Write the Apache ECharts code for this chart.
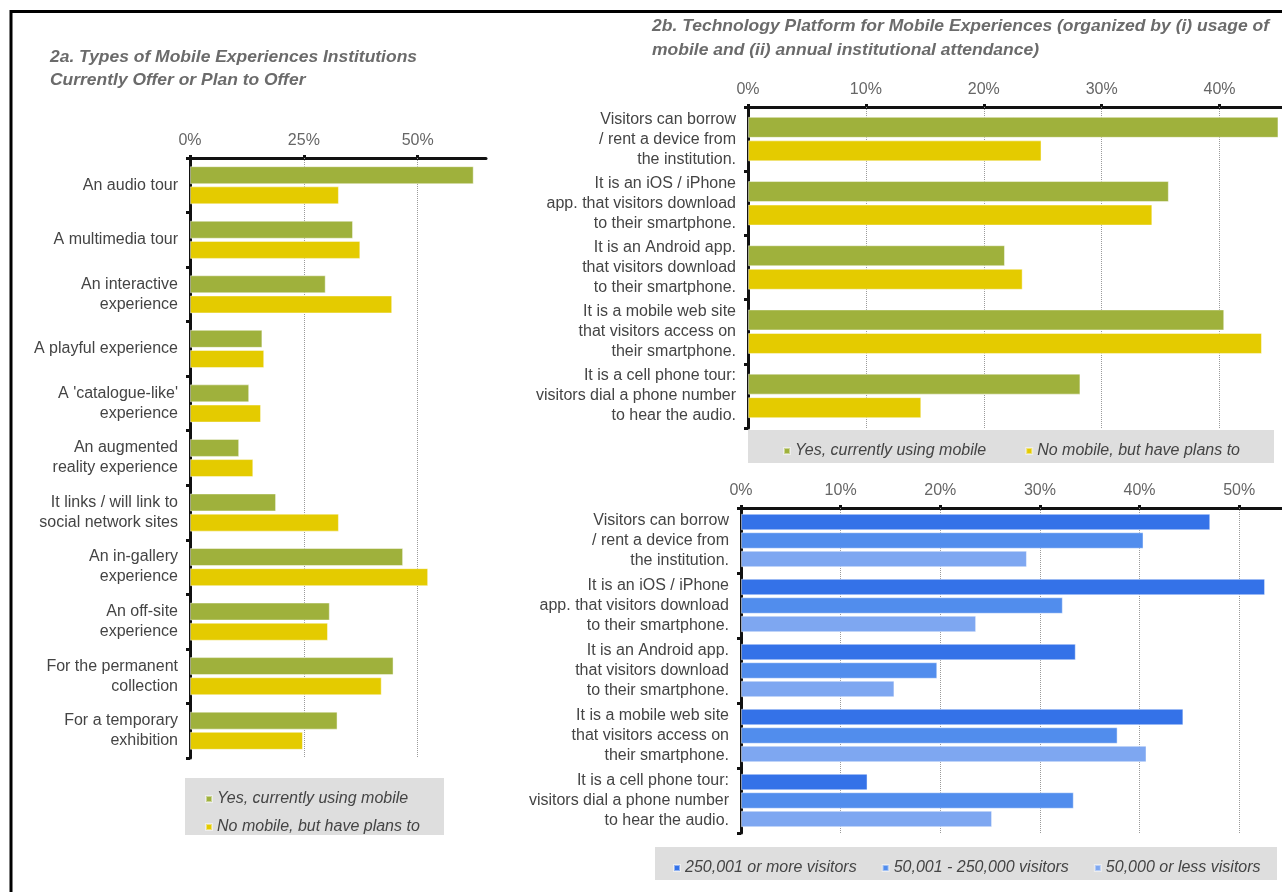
<!DOCTYPE html>
<html>
<head>
<meta charset="utf-8">
<style>
  html, body { margin: 0; padding: 0; background: #fff; }
  #chart { width: 1282px; height: 892px; }
</style>
<script src="https://cdn.jsdelivr.net/npm/echarts@6/dist/echarts.min.js"></script>
</head>
<body>
<div id="chart"></div>
<script>
// ---- 2a: types of mobile experiences ----
const typeCategories = [
  'An audio tour',
  'A multimedia tour',
  'An interactive\nexperience',
  'A playful experience',
  "A 'catalogue-like'\nexperience",
  'An augmented\nreality experience',
  'It links / will link to\nsocial network sites',
  'An in-gallery\nexperience',
  'An off-site\nexperience',
  'For the permanent\ncollection',
  'For a temporary\nexhibition'
];
const typeYes  = [62.3, 35.8, 29.8, 15.9, 13.0, 10.8, 18.9, 46.8, 30.7, 44.7, 32.4];
const typePlan = [32.7, 37.4, 44.4, 16.3, 15.6, 13.9, 32.7, 52.3, 30.3, 42.1, 24.8];
const typeTicks = [0, 25, 50];

// ---- 2b: technology platform ----
const platformCategories = [
  'Visitors can borrow\n/ rent a device from\nthe institution.',
  'It is an iOS / iPhone\napp. that visitors download\nto their smartphone.',
  'It is an Android app.\nthat visitors download\nto their smartphone.',
  'It is a mobile web site\nthat visitors access on\ntheir smartphone.',
  'It is a cell phone tour:\nvisitors dial a phone number\nto hear the audio.'
];
const platformYes  = [45.0, 35.7, 21.8, 40.4, 28.2];
const platformPlan = [24.9, 34.3, 23.3, 43.6, 14.7];
const platformTicks = [0, 10, 20, 30, 40];

const attendLarge  = [47.1, 52.6, 33.6, 44.4, 12.7];
const attendMedium = [40.4, 32.3, 19.7, 37.8, 33.4];
const attendSmall  = [28.7, 23.6, 15.4, 40.7, 25.2];
const attendTicks = [0, 10, 20, 30, 40, 50];

const titleA = ['2a. Types of Mobile Experiences Institutions', 'Currently Offer or Plan to Offer'];
const titleB = ['2b. Technology Platform for Mobile Experiences (organized by (i) usage of', 'mobile and (ii) annual institutional attendance)'];

const NAME_YES = 'Yes, currently using mobile';
const NAME_PLAN = 'No mobile, but have plans to';
const NAME_L = '250,001 or more visitors';
const NAME_M = '50,001 - 250,000 visitors';
const NAME_S = '50,000 or less visitors';

const GREEN = '#9fb13c';
const YELLOW = '#e4cb00';
const BLUE_D = '#3472e8';
const BLUE_M = '#518ded';
const BLUE_L = '#7ea7f1';

const FONT = '"Liberation Sans", Arial, Helvetica, sans-serif';
const TITLE_FONT = 'italic bold 17px "Liberation Sans", Arial, sans-serif';

// titles are set in a condensed face: squeeze the regular face horizontally to the column width
function condensed(text, width) {
  const ctx = document.createElement('canvas').getContext('2d');
  ctx.font = TITLE_FONT;
  return width / ctx.measureText(text).width;
}
function titleLines(lines, x, ys, width) {
  const sx = condensed(lines[0], width);
  return lines.map((t, i) => ({
    type: 'text', x, y: ys[i], scaleX: sx, silent: true,
    style: { text: t, font: TITLE_FONT, fill: '#6b6b6b', textAlign: 'left', textVerticalAlign: 'middle' }
  }));
}

function valueAxis(gridIndex, max, ticks) {
  return {
    type: 'value', gridIndex, position: 'top', min: 0, max,
    axisLine: { show: true, lineStyle: { color: '#111', width: 3 } },
    axisTick: { show: true, customValues: ticks, length: 3, lineStyle: { color: '#111', width: 3 } },
    axisLabel: { customValues: ticks, formatter: '{value}%', color: '#666', fontSize: 16, fontFamily: FONT, margin: 9 },
    splitLine: { show: false }
  };
}
function categoryAxis(gridIndex, data, lineHeight) {
  return {
    type: 'category', gridIndex, data, inverse: true,
    axisLine: { show: true, lineStyle: { color: '#111', width: 3 } },
    axisTick: { show: true, length: 4, lineStyle: { color: '#111', width: 3 } },
    axisLabel: { color: '#444', fontSize: 16, fontFamily: FONT, lineHeight, margin: 12, align: 'right' }
  };
}
function gridLines(ticks) {
  return {
    silent: true, symbol: 'none', z: 1,
    label: { show: false },
    emphasis: { disabled: true },
    lineStyle: { type: 'dotted', color: '#9a9a9a', width: 1 },
    data: ticks.filter(v => v > 0).map(v => ({ xAxis: v }))
  };
}
function bars(name, xi, data, color, width, extra) {
  return Object.assign({
    name, type: 'bar', xAxisIndex: xi, yAxisIndex: xi, data,
    barWidth: width, barGap: '12%',
    itemStyle: { color, borderColor: 'rgba(255,255,255,0.45)', borderWidth: 1 },
    emphasis: { disabled: true },
    animation: false
  }, extra || {});
}

const legendText = { fontStyle: 'italic', fontSize: 16, color: '#444', fontFamily: FONT };

const option = {
  backgroundColor: '#fff',
  animation: false,
  grid: [
    { left: 190, top: 158, width: 296, height: 600 },
    { left: 748, top: 107, width: 534, height: 321 },
    { left: 741, top: 508, width: 541, height: 325 }
  ],
  xAxis: [
    valueAxis(0, 65, typeTicks),
    valueAxis(1, 45.3, platformTicks),
    valueAxis(2, 54.3, attendTicks)
  ],
  yAxis: [
    categoryAxis(0, typeCategories, 20),
    categoryAxis(1, platformCategories, 20),
    categoryAxis(2, platformCategories, 20)
  ],
  legend: [
    {
      data: [NAME_YES, NAME_PLAN], orient: 'vertical', left: 200, top: 786,
      icon: 'rect', itemWidth: 6, itemHeight: 6, itemGap: 12, selectedMode: false,
      textStyle: legendText
    },
    {
      data: [NAME_YES, NAME_PLAN], orient: 'horizontal', left: 778, top: 438,
      icon: 'rect', itemWidth: 6, itemHeight: 6, itemGap: 39, selectedMode: false,
      textStyle: legendText
    },
    {
      data: [NAME_L, NAME_M, NAME_S], orient: 'horizontal', left: 668, top: 855,
      icon: 'rect', itemWidth: 6, itemHeight: 6, itemGap: 25, selectedMode: false,
      textStyle: legendText
    }
  ],
  graphic: [
    // frame
    { type: 'line', shape: { x1: 11, y1: 10, x2: 11, y2: 892 }, style: { stroke: '#000', lineWidth: 3 }, z: 10 },
    { type: 'line', shape: { x1: 10, y1: 11.5, x2: 1282, y2: 11.5 }, style: { stroke: '#000', lineWidth: 3 }, z: 10 },
    // legend panels
    { type: 'rect', shape: { x: 185, y: 778, width: 259, height: 57 }, style: { fill: '#dedede' }, z: -1 },
    { type: 'rect', shape: { x: 748, y: 430, width: 526, height: 33 }, style: { fill: '#dedede' }, z: -1 },
    { type: 'rect', shape: { x: 655, y: 847, width: 622, height: 33 }, style: { fill: '#dedede' }, z: -1 }
  ].concat(
    titleLines(titleA, 50, [57, 80], 367),
    titleLines(titleB, 652, [26, 50], 617)
  ),
  series: [
    bars(NAME_YES, 0, typeYes, GREEN, 18, { markLine: gridLines(typeTicks) }),
    bars(NAME_PLAN, 0, typePlan, YELLOW, 18),
    bars(NAME_YES, 1, platformYes, GREEN, 21, { markLine: gridLines(platformTicks) }),
    bars(NAME_PLAN, 1, platformPlan, YELLOW, 21),
    bars(NAME_L, 2, attendLarge, BLUE_D, 16.5, { markLine: gridLines(attendTicks) }),
    bars(NAME_M, 2, attendMedium, BLUE_M, 16.5),
    bars(NAME_S, 2, attendSmall, BLUE_L, 16.5)
  ]
};

const chart = echarts.init(document.getElementById('chart'), null, { renderer: 'canvas' });
chart.setOption(option);
</script>
</body>
</html>
